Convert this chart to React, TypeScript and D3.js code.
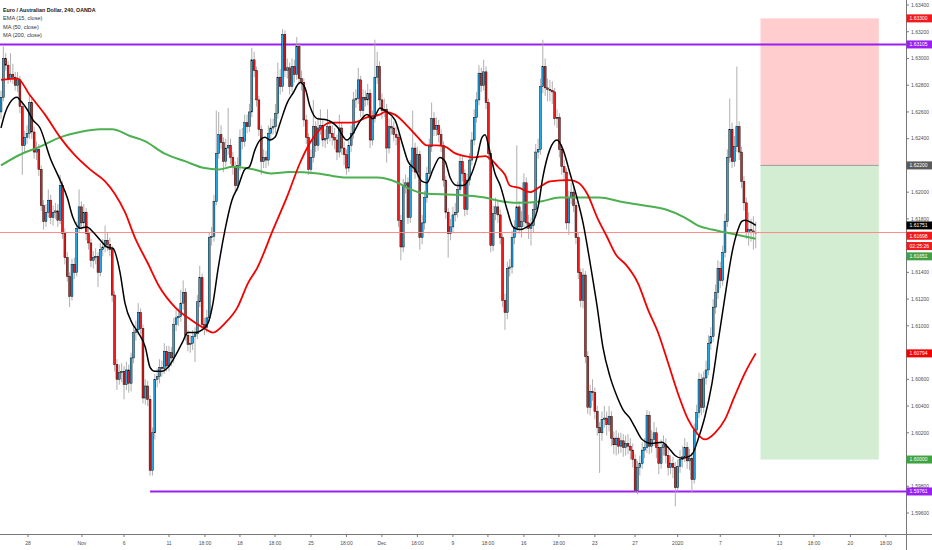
import * as d3 from "d3";
import React from "react";

// EUR/AUD 4H candles, bar 0 = first visible bar; open of each bar = previous close
const firstOpen = 1.626;

const closes = [
  1.6271, 1.63, 1.6295, 1.6285, 1.6288, 1.6286, 1.628, 1.6284, 1.6264, 1.6235,
  1.6241, 1.6244, 1.6267, 1.6245, 1.623, 1.6232, 1.6217, 1.619, 1.6178, 1.6185,
  1.6194, 1.6181, 1.6185, 1.6186, 1.6179, 1.6205, 1.6169, 1.6151, 1.6137, 1.6122,
  1.6146, 1.614, 1.6173, 1.6189, 1.6177, 1.6185, 1.6169, 1.6162, 1.6149, 1.6151,
  1.6152, 1.614, 1.6157, 1.6159, 1.6164, 1.6161, 1.6157, 1.6123, 1.6071, 1.606,
  1.6065, 1.6066, 1.6056, 1.6067, 1.6057, 1.6076, 1.6095, 1.6097, 1.611, 1.6098,
  1.6046, 1.6055, 1.6045, 1.5992, 1.602, 1.606, 1.6062, 1.6069, 1.6068, 1.6081,
  1.607, 1.608, 1.6076, 1.6101, 1.6106, 1.6107, 1.6117, 1.6125, 1.6093, 1.6086,
  1.6087, 1.6092, 1.6094, 1.6118, 1.6136, 1.6101, 1.6099, 1.6106, 1.6166, 1.6167,
  1.6193, 1.6229, 1.6243, 1.6237, 1.6223, 1.6233, 1.6235, 1.6226, 1.6219, 1.6205,
  1.622, 1.6241, 1.6238, 1.6252, 1.6249, 1.626, 1.6299, 1.6291, 1.6269, 1.6247,
  1.6223, 1.6226, 1.6224, 1.6244, 1.6248, 1.6249, 1.6259, 1.6286, 1.6279, 1.6318,
  1.6291, 1.6293, 1.6279, 1.6294, 1.6288, 1.6309, 1.6285, 1.6282, 1.6254, 1.6241,
  1.6217, 1.6226, 1.6249, 1.6235, 1.6248, 1.625, 1.6239, 1.624, 1.6249, 1.6244,
  1.6241, 1.6239, 1.623, 1.6248, 1.6233, 1.6228, 1.6218, 1.6235, 1.6244, 1.6269,
  1.627, 1.6284, 1.6261, 1.6271, 1.6269, 1.6274, 1.6239, 1.6255, 1.6286, 1.6294,
  1.6269, 1.6261, 1.6262, 1.6233, 1.6249, 1.6248, 1.6243, 1.6241, 1.6179, 1.6159,
  1.6205, 1.6207, 1.6181, 1.6219, 1.6233, 1.6215, 1.6228, 1.6166, 1.6177, 1.6196,
  1.6214, 1.6234, 1.6255, 1.6247, 1.625, 1.6243, 1.6235, 1.6209, 1.6185, 1.6169,
  1.6174, 1.6183, 1.6185, 1.6202, 1.6223, 1.6214, 1.6187, 1.6209, 1.6224, 1.6239,
  1.6256, 1.6269, 1.6289, 1.628, 1.629, 1.6267, 1.6229, 1.616, 1.6184, 1.6189,
  1.6183, 1.6166, 1.6119, 1.611, 1.6143, 1.6144, 1.6166, 1.6173, 1.6189, 1.6174,
  1.6178, 1.6207, 1.6177, 1.6173, 1.6175, 1.6187, 1.623, 1.6232, 1.6279, 1.6294,
  1.6278, 1.6277, 1.6276, 1.6275, 1.6255, 1.6256, 1.6232, 1.6219, 1.6215, 1.6177,
  1.6196, 1.62, 1.619, 1.6166, 1.614, 1.6119, 1.6138, 1.6077, 1.6039, 1.6051,
  1.605, 1.6036, 1.6024, 1.602, 1.603, 1.6031, 1.6026, 1.6032, 1.6016, 1.6011,
  1.6016, 1.601, 1.6014, 1.6009, 1.6012, 1.601, 1.6007, 1.6, 1.5977, 1.5994,
  1.5997, 1.6007, 1.6009, 1.6033, 1.601, 1.6015, 1.602, 1.6009, 1.5997, 1.6009,
  1.6011, 1.6003, 1.5994, 1.5997, 1.5994, 1.5979, 1.5995, 1.6, 1.6002, 1.6009,
  1.5999, 1.6001, 1.5985, 1.6022, 1.6035, 1.606, 1.6039, 1.6061, 1.6067, 1.6087,
  1.6092, 1.6114, 1.6125, 1.6143, 1.6134, 1.6155, 1.6178, 1.6226, 1.6247, 1.6223,
  1.6234, 1.6249, 1.623, 1.6208, 1.6192, 1.617, 1.6172, 1.6171, 1.617, 1.61698,
];

const highs = [
  1.6276, 1.6309, 1.6304, 1.6298, 1.6304, 1.6296, 1.629, 1.629, 1.6287, 1.6268,
  1.6246, 1.625, 1.6273, 1.627, 1.6249, 1.6238, 1.6236, 1.622, 1.6194, 1.6191,
  1.6202, 1.6198, 1.619, 1.6192, 1.6191, 1.6213, 1.6208, 1.6173, 1.6155, 1.614,
  1.615, 1.6151, 1.6178, 1.6202, 1.6193, 1.6191, 1.6188, 1.6173, 1.6165, 1.6156,
  1.6158, 1.6155, 1.6162, 1.6165, 1.6175, 1.617, 1.6166, 1.616, 1.6126, 1.6075,
  1.6071, 1.6072, 1.607, 1.6073, 1.6071, 1.608, 1.61, 1.6104, 1.6117, 1.6113,
  1.6101, 1.606, 1.6059, 1.6048, 1.6024, 1.6064, 1.6068, 1.6075, 1.6074, 1.6087,
  1.6085, 1.6085, 1.6084, 1.6106, 1.6112, 1.6113, 1.6127, 1.6134, 1.6128, 1.6097,
  1.6093, 1.6097, 1.6099, 1.6123, 1.6145, 1.6139, 1.6106, 1.6112, 1.617, 1.6174,
  1.6198, 1.6261, 1.626, 1.625, 1.6241, 1.624, 1.6263, 1.624, 1.623, 1.6223,
  1.6226, 1.6247, 1.6248, 1.6258, 1.6258, 1.6266, 1.6308, 1.6305, 1.6294, 1.6272,
  1.625, 1.6232, 1.6231, 1.625, 1.6255, 1.6255, 1.6266, 1.6297, 1.6292, 1.6322,
  1.6321, 1.63, 1.6297, 1.63, 1.6299, 1.6316, 1.6312, 1.6291, 1.6285, 1.6258,
  1.6244, 1.6232, 1.6269, 1.6253, 1.6256, 1.6262, 1.6254, 1.6247, 1.6262, 1.6254,
  1.625, 1.6248, 1.6243, 1.6258, 1.6252, 1.6238, 1.6232, 1.624, 1.625, 1.6275,
  1.6277, 1.6293, 1.6287, 1.6277, 1.6276, 1.6281, 1.6277, 1.6261, 1.6314, 1.6305,
  1.6298, 1.6274, 1.627, 1.6266, 1.6255, 1.6256, 1.6253, 1.6249, 1.6244, 1.6183,
  1.621, 1.6213, 1.6211, 1.6224, 1.6261, 1.6237, 1.6234, 1.6231, 1.6183, 1.6201,
  1.6219, 1.624, 1.6267, 1.626, 1.6256, 1.6254, 1.6247, 1.6238, 1.6212, 1.6188,
  1.618, 1.6189, 1.6192, 1.6208, 1.6229, 1.6227, 1.6217, 1.6214, 1.6229, 1.6245,
  1.6262, 1.6275, 1.6295, 1.6293, 1.6299, 1.6294, 1.627, 1.6232, 1.619, 1.6196,
  1.6194, 1.6187, 1.6169, 1.6124, 1.6148, 1.615, 1.6171, 1.6179, 1.6235, 1.6193,
  1.6186, 1.6214, 1.6211, 1.6183, 1.6181, 1.6193, 1.6236, 1.624, 1.6285, 1.6314,
  1.63, 1.6285, 1.6284, 1.6283, 1.6278, 1.6262, 1.6259, 1.6236, 1.6224, 1.6218,
  1.6201, 1.6207, 1.6205, 1.6193, 1.617, 1.6143, 1.6143, 1.6141, 1.6081, 1.6056,
  1.606, 1.6054, 1.604, 1.6028, 1.6036, 1.604, 1.6036, 1.604, 1.6036, 1.6021,
  1.6022, 1.602, 1.602, 1.6019, 1.6018, 1.6019, 1.6016, 1.6012, 1.6004, 1.5999,
  1.6003, 1.6013, 1.6016, 1.6037, 1.6036, 1.6022, 1.6028, 1.6024, 1.6013, 1.6015,
  1.6018, 1.6016, 1.6008, 1.6003, 1.6002, 1.5998, 1.6, 1.6007, 1.601, 1.6016,
  1.6013, 1.6008, 1.6005, 1.6027, 1.6041, 1.6065, 1.6064, 1.6066, 1.6074, 1.6093,
  1.6099, 1.612, 1.6131, 1.6149, 1.6148, 1.616, 1.6184, 1.6232, 1.627, 1.6252,
  1.6242, 1.6294, 1.6253, 1.6234, 1.6212, 1.6196, 1.6185, 1.618, 1.6182, 1.6178,
];

const lows = [
  1.6255, 1.6268, 1.6291, 1.6281, 1.6282, 1.6281, 1.6276, 1.6275, 1.6259, 1.6213,
  1.623, 1.6236, 1.624, 1.624, 1.6225, 1.6224, 1.6212, 1.6186, 1.6172, 1.6174,
  1.6181, 1.6176, 1.6175, 1.618, 1.6174, 1.6176, 1.6165, 1.6146, 1.6133, 1.6114,
  1.6119, 1.6135, 1.6137, 1.617, 1.6172, 1.6173, 1.6164, 1.6157, 1.6144, 1.6143,
  1.6146, 1.6129, 1.6137, 1.6152, 1.6155, 1.6156, 1.6152, 1.6118, 1.6066, 1.6052,
  1.6056, 1.6058, 1.6045, 1.6052, 1.605, 1.6051, 1.6072, 1.6089, 1.6093, 1.6094,
  1.6042, 1.6041, 1.604, 1.5988, 1.5988, 1.6015, 1.6054, 1.6057, 1.6062, 1.6064,
  1.6066, 1.6066, 1.607, 1.6072, 1.6096, 1.61, 1.6103, 1.6112, 1.6089, 1.6081,
  1.608, 1.6082, 1.6073, 1.609, 1.6114, 1.6097, 1.6093, 1.6095, 1.6103, 1.616,
  1.6163, 1.619, 1.6225, 1.6232, 1.6215, 1.6219, 1.6228, 1.6221, 1.6213, 1.62,
  1.6201, 1.6216, 1.6232, 1.6234, 1.6244, 1.6245, 1.6256, 1.6286, 1.6264, 1.6242,
  1.6213, 1.6218, 1.6218, 1.622, 1.6238, 1.6243, 1.6244, 1.6255, 1.6273, 1.6275,
  1.6286, 1.6285, 1.6273, 1.6275, 1.6282, 1.6284, 1.628, 1.6276, 1.6249, 1.6236,
  1.6213, 1.6214, 1.6222, 1.623, 1.6231, 1.6243, 1.6234, 1.6233, 1.6236, 1.6238,
  1.6235, 1.6232, 1.6224, 1.6226, 1.6228, 1.622, 1.6213, 1.6215, 1.623, 1.624,
  1.6263, 1.6266, 1.6256, 1.6257, 1.6264, 1.6265, 1.6233, 1.6235, 1.6252, 1.6281,
  1.6264, 1.6255, 1.6256, 1.6222, 1.6229, 1.6243, 1.6238, 1.6235, 1.6174, 1.6149,
  1.6155, 1.6199, 1.6176, 1.6177, 1.6215, 1.621, 1.6211, 1.6157, 1.6161, 1.6172,
  1.6192, 1.621, 1.623, 1.6242, 1.6242, 1.6237, 1.623, 1.6204, 1.618, 1.6151,
  1.6164, 1.617, 1.6178, 1.6181, 1.6198, 1.6208, 1.6182, 1.6183, 1.6205, 1.622,
  1.6235, 1.6252, 1.6265, 1.6275, 1.6276, 1.6262, 1.6224, 1.6155, 1.6156, 1.6179,
  1.6177, 1.6161, 1.6114, 1.6097, 1.6105, 1.6137, 1.6139, 1.6161, 1.6169, 1.6169,
  1.6166, 1.6174, 1.6172, 1.6165, 1.616, 1.617, 1.6183, 1.6225, 1.6228, 1.6274,
  1.6272, 1.6268, 1.6268, 1.6266, 1.625, 1.6248, 1.6226, 1.6213, 1.6208, 1.6172,
  1.6168, 1.6191, 1.6185, 1.6161, 1.6135, 1.6114, 1.6113, 1.6072, 1.6034, 1.6033,
  1.6044, 1.603, 1.6018, 1.599, 1.6014, 1.6024, 1.6018, 1.6021, 1.601, 1.6004,
  1.6003, 1.6004, 1.6005, 1.6002, 1.6003, 1.6004, 1.6, 1.5994, 1.5975, 1.5974,
  1.5988, 1.5993, 1.6001, 1.6005, 1.6004, 1.6005, 1.601, 1.6001, 1.5989, 1.5993,
  1.6003, 1.5997, 1.5988, 1.5989, 1.5986, 1.5965, 1.5976, 1.599, 1.5994, 1.5998,
  1.5993, 1.5992, 1.5975, 1.5982, 1.6018, 1.6031, 1.6033, 1.6035, 1.6056, 1.6063,
  1.6082, 1.6088, 1.6109, 1.612, 1.6128, 1.613, 1.6151, 1.6174, 1.6222, 1.6218,
  1.6219, 1.623, 1.6224, 1.6203, 1.6186, 1.6165, 1.616, 1.6163, 1.6157, 1.6158,
];

// indicator readings: [bar, value]
const ema15: [number, number][] = [
  [0, 1.6248], [1.7, 1.6259], [3.8, 1.6267], [6.8, 1.6271], [8, 1.6269], [11, 1.6262],
  [13.5, 1.6254], [16.5, 1.6248], [20.7, 1.6226], [25, 1.6209], [28, 1.6196], [30.4, 1.6181],
  [33.4, 1.6173], [36.3, 1.6174], [39, 1.617], [42, 1.6164], [44.8, 1.6159], [47.3, 1.6158],
  [50.3, 1.614], [52.4, 1.6117], [55.4, 1.6102], [58, 1.6095], [61, 1.6084], [63, 1.6069],
  [65, 1.6066], [68, 1.6066], [70.6, 1.6069], [73.5, 1.6077], [76.5, 1.6087], [79, 1.6095],
  [82, 1.6095], [85, 1.6097], [87.5, 1.6102], [89.6, 1.6117], [91.7, 1.6142], [94.7, 1.6172],
  [97.6, 1.6194], [100.2, 1.6204], [103, 1.6217], [105, 1.6219], [107.4, 1.6232], [109.5, 1.6239],
  [111.6, 1.6241], [113.7, 1.6239], [115.8, 1.6241], [118, 1.6252], [121, 1.6267], [123.4, 1.6274],
  [126.4, 1.6282], [128.5, 1.6278], [130.6, 1.6264], [133.6, 1.6255], [137.8, 1.6254], [142, 1.6249],
  [146.2, 1.6239], [148.8, 1.6244], [151.7, 1.6253], [154.7, 1.6258], [157.2, 1.6255], [160.2, 1.6263],
  [162.3, 1.6261], [166.5, 1.6254], [169.5, 1.6237], [172, 1.6223], [175, 1.6217], [178, 1.6208],
  [180, 1.6207], [182.6, 1.6217], [185.5, 1.6226], [187.7, 1.6223], [189.8, 1.6211], [192.7, 1.6205],
  [195.3, 1.6205], [198.2, 1.6211], [201.2, 1.6226], [203.3, 1.6241], [204.6, 1.6243], [206.7, 1.6229],
  [208.8, 1.6214], [211, 1.6205], [213.9, 1.6187], [216.4, 1.6174], [219.4, 1.6172], [222.3, 1.6174],
  [224.9, 1.6178], [227, 1.6189], [229, 1.6211], [232, 1.6232], [235, 1.6239], [237.5, 1.6232],
  [240.5, 1.6214], [243.4, 1.6196], [246, 1.6177], [249, 1.6147], [252, 1.6114], [254.4, 1.6084],
  [257.4, 1.6062], [260.4, 1.6047], [263, 1.6037], [265.8, 1.6031], [268, 1.6024], [271, 1.6015],
  [275, 1.6012], [279.4, 1.6013], [282, 1.6009], [284.9, 1.6003], [287.8, 1.6001], [290.4, 1.6002],
  [292.5, 1.6005], [294.6, 1.6015], [297.5, 1.6032], [300.5, 1.6057], [303, 1.6087], [306, 1.6122],
  [309, 1.6155], [311.5, 1.6172], [313, 1.6178], [314.5, 1.6179], [317.4, 1.6177], [319, 1.61751],
];

const ma50: [number, number][] = [
  [0, 1.6284], [7, 1.6285], [12, 1.6273], [18.6, 1.6258], [25, 1.6241], [31, 1.6228],
  [37.6, 1.6217], [44, 1.6208], [48, 1.6199], [52.4, 1.6185], [56.6, 1.6166], [62, 1.6147],
  [67, 1.6129], [73.5, 1.6114], [80.7, 1.6104], [86, 1.6098], [89.6, 1.6095], [94.7, 1.6102],
  [100, 1.6114], [104.4, 1.6132], [108.2, 1.6143], [115, 1.6172], [121, 1.6197], [126.4, 1.6222],
  [130.6, 1.6237], [134.8, 1.6247], [139, 1.6252], [148.8, 1.6252], [154.7, 1.6256], [160, 1.6258],
  [162.3, 1.626], [166.5, 1.6258], [172, 1.6249], [176.2, 1.6241], [180, 1.6235], [184, 1.6235],
  [187.7, 1.6234], [192, 1.6229], [196, 1.6227], [200, 1.6226], [204.6, 1.6227], [207.5, 1.6224],
  [210, 1.6219], [213, 1.6213], [215, 1.6205], [219.4, 1.6203], [223.6, 1.62], [227.8, 1.6204],
  [232, 1.6208], [240.5, 1.6209], [244, 1.6207], [247.7, 1.6199], [252, 1.6181], [256, 1.6167],
  [260, 1.6153], [264, 1.6146], [269.2, 1.6132], [273.5, 1.6112], [277.7, 1.6095], [282, 1.6072],
  [286, 1.605], [290.4, 1.603], [294, 1.602], [297.5, 1.6015], [301.8, 1.602], [306, 1.603],
  [310, 1.6047], [314.5, 1.6065], [319, 1.60794],
];

const ma200: [number, number][] = [
  [0, 1.622], [8, 1.6228], [16.5, 1.6234], [25, 1.6241], [33.4, 1.6245], [42, 1.6247],
  [47, 1.6247], [54.5, 1.6242], [61, 1.6238], [69, 1.6229], [78, 1.6223], [86, 1.6218],
  [92, 1.6217], [98, 1.6219], [107, 1.6217], [114, 1.6214], [122, 1.6215], [134, 1.6214],
  [145, 1.6211], [159, 1.6211], [166.5, 1.6208], [172, 1.6203], [179, 1.6199], [193, 1.6198],
  [204.5, 1.6196], [212, 1.6193], [219, 1.6192], [228, 1.6193], [236, 1.6196], [245, 1.6196],
  [253, 1.6196], [261.6, 1.6193], [272, 1.619], [281, 1.6187], [289, 1.6181], [294.6, 1.6175],
  [300.5, 1.6172], [306, 1.617], [311.5, 1.6168], [319, 1.61651],
];

const timeTickLabels = [
  "28", "Nov", "6", "11", "18:00", "18", "18:00", "25", "18:00", "Dec", "18:00", "9",
  "18:00", "16", "18:00", "23", "27", "2020", "7", "13", "18:00", "20", "18:00",
];
const timeTickBars = [
  11.4, 34.2, 52, 71, 86.2, 101, 115.8, 131, 146, 161, 176, 191,
  205.8, 221, 235.8, 251, 268, 286, 304, 329, 343.6, 359, 374,
];

const priceTicks = [
  1.596, 1.598, 1.6, 1.602, 1.604, 1.606, 1.608, 1.61, 1.612, 1.614,
  1.616, 1.618, 1.62, 1.622, 1.624, 1.626, 1.628, 1.63, 1.632, 1.634,
];

const resistanceLevel = 1.63105;
const supportLevel = 1.59761;
const supportStartBar = 63;
const stopLevel = 1.633;
const entryLevel = 1.622;
const targetLevel = 1.6;
const positionStartBar = 321;
const positionEndBar = 371;
const countdown = "02:25:26";

const titleLines = ["Euro / Australian Dollar, 240, OANDA", "EMA (15, close)", "MA (50, close)", "MA (200, close)"];

const WIDTH = 932;
const HEIGHT = 550;
const PLOT_RIGHT = 906;
const AXIS_Y = 534;

const UP = "#22a7e6";
const DOWN = "#ec1c1c";
const PURPLE = "#9b1ff2";
const TEXT = "#4d4d4d";

export default function App() {
  const x = d3.scaleLinear().domain([0, 382.5]).range([1, PLOT_RIGHT]);
  const y = d3.scaleLinear().domain([1.596, 1.634]).range([513, 5]);
  const fmt = d3.format(".5f");

  const candles = closes.map((c, i) => ({
    i,
    o: i === 0 ? firstOpen : closes[i - 1],
    h: highs[i],
    l: lows[i],
    c,
  }));

  const line = d3
    .line<[number, number]>()
    .x((d) => x(d[0]))
    .y((d) => y(d[1]))
    .curve(d3.curveMonotoneX);

  const lastClose = closes[closes.length - 1];

  // price badges on the right scale, pushed apart when they collide
  const badges = [
    { price: stopLevel, text: fmt(stopLevel), fill: "#f0191c" },
    { price: resistanceLevel, text: fmt(resistanceLevel), fill: PURPLE },
    { price: entryLevel, text: fmt(entryLevel), fill: "#5b5b5b" },
    { price: ema15[ema15.length - 1][1], text: fmt(ema15[ema15.length - 1][1]), fill: "#000" },
    { price: lastClose, text: fmt(lastClose), fill: "#f0191c" },
    { price: lastClose, text: countdown, fill: "#f0191c" },
    { price: ma200[ma200.length - 1][1], text: fmt(ma200[ma200.length - 1][1]), fill: "#43a047" },
    { price: ma50[ma50.length - 1][1], text: fmt(ma50[ma50.length - 1][1]), fill: "#f50000" },
    { price: targetLevel, text: fmt(targetLevel), fill: "#3fa33f" },
    { price: supportLevel, text: fmt(supportLevel), fill: PURPLE },
  ]
    .map((b) => ({ ...b, cy: y(b.price) }))
    .sort((a, b) => a.cy - b.cy);
  for (let k = 1; k < badges.length; k++) {
    if (badges[k].cy < badges[k - 1].cy + 10.3) badges[k].cy = badges[k - 1].cy + 10.3;
  }

  const bodyW = 1.9;
  const px0 = x(positionStartBar);
  const px1 = x(positionEndBar);

  return (
    <>
      <style>{`body{margin:0;background:#fff}`}</style>
      <svg
        width={WIDTH}
        height={HEIGHT}
        style={{ display: "block", fontFamily: "'Liberation Sans', Arial, sans-serif" }}
      >
        <defs>
          <clipPath id="plot">
            <rect x={0} y={0} width={PLOT_RIGHT} height={AXIS_Y} />
          </clipPath>
        </defs>
        <rect width={WIDTH} height={HEIGHT} fill="#fff" />

        <g clipPath="url(#plot)">
          {/* short position tool */}
          <rect x={px0} y={y(stopLevel)} width={px1 - px0} height={y(entryLevel) - y(stopLevel)} fill="#ffcdcd" />
          <rect x={px0} y={y(entryLevel)} width={px1 - px0} height={y(targetLevel) - y(entryLevel)} fill="#d2edd2" />
          <line x1={px0} x2={px1} y1={y(entryLevel)} y2={y(entryLevel)} stroke="#9e9e9e" strokeWidth={1} />

          {/* horizontal levels */}
          <line x1={0} x2={PLOT_RIGHT} y1={y(resistanceLevel)} y2={y(resistanceLevel)} stroke={PURPLE} strokeWidth={2} />
          <line x1={x(supportStartBar)} x2={PLOT_RIGHT} y1={y(supportLevel)} y2={y(supportLevel)} stroke={PURPLE} strokeWidth={2} />

          {/* candles */}
          {candles.map((d) => (
            <line key={"w" + d.i} x1={x(d.i)} x2={x(d.i)} y1={y(d.h)} y2={y(d.l)} stroke="#a6a6a6" strokeWidth={0.9} />
          ))}
          {candles.map((d) => {
            const top = y(Math.max(d.o, d.c));
            const bot = y(Math.min(d.o, d.c));
            return (
              <rect
                key={"b" + d.i}
                x={x(d.i) - bodyW / 2}
                y={top}
                width={bodyW}
                height={Math.max(bot - top, 0.8)}
                fill={d.c >= d.o ? UP : DOWN}
                stroke="#000"
                strokeWidth={0.45}
              />
            );
          })}

          {/* last price line */}
          <line x1={0} x2={PLOT_RIGHT} y1={y(lastClose)} y2={y(lastClose)} stroke="#ff8a8a" strokeWidth={1} />

          {/* moving averages */}
          <path d={line(ma200) || ""} fill="none" stroke="#4caf50" strokeWidth={2} />
          <path d={line(ma50) || ""} fill="none" stroke="#f50000" strokeWidth={1.8} />
          <path d={line(ema15) || ""} fill="none" stroke="#000" strokeWidth={1.5} />
        </g>

        {/* legend */}
        {titleLines.map((t, k) => (
          <text
            key={t}
            x={3}
            y={12 + k * 8.4}
            fontSize={k === 0 ? 5.3 : 5.6}
            fontWeight={k === 0 ? "bold" : "normal"}
            fill={k === 0 ? "#131722" : "#333"}
          >
            {t}
          </text>
        ))}

        {/* axes */}
        <line x1={0} x2={WIDTH} y1={AXIS_Y + 0.5} y2={AXIS_Y + 0.5} stroke="#787878" strokeWidth={1} />
        <line x1={PLOT_RIGHT + 0.5} x2={PLOT_RIGHT + 0.5} y1={0} y2={HEIGHT} stroke="#787878" strokeWidth={1} />

        {timeTickLabels.map((t, k) => (
          <g key={"t" + k}>
            <line x1={x(timeTickBars[k])} x2={x(timeTickBars[k])} y1={AXIS_Y} y2={AXIS_Y + 3} stroke="#787878" />
            <text x={x(timeTickBars[k])} y={545} fontSize={5} fill={TEXT} textAnchor="middle">
              {t}
            </text>
          </g>
        ))}

        {priceTicks.map((p) => (
          <g key={"p" + p}>
            <line x1={PLOT_RIGHT} x2={PLOT_RIGHT + 3} y1={y(p)} y2={y(p)} stroke="#787878" />
            <text x={911} y={y(p) + 1.8} fontSize={5} fill={TEXT}>
              {fmt(p)}
            </text>
          </g>
        ))}

        {badges.map((b, k) => (
          <g key={"bd" + k}>
            <rect x={PLOT_RIGHT + 0.5} y={b.cy - 4} width={WIDTH - PLOT_RIGHT} height={8} fill={b.fill} />
            <text x={909.5} y={b.cy + 1.8} fontSize={5} fill="#fff">
              {b.text}
            </text>
          </g>
        ))}
      </svg>
    </>
  );
}
